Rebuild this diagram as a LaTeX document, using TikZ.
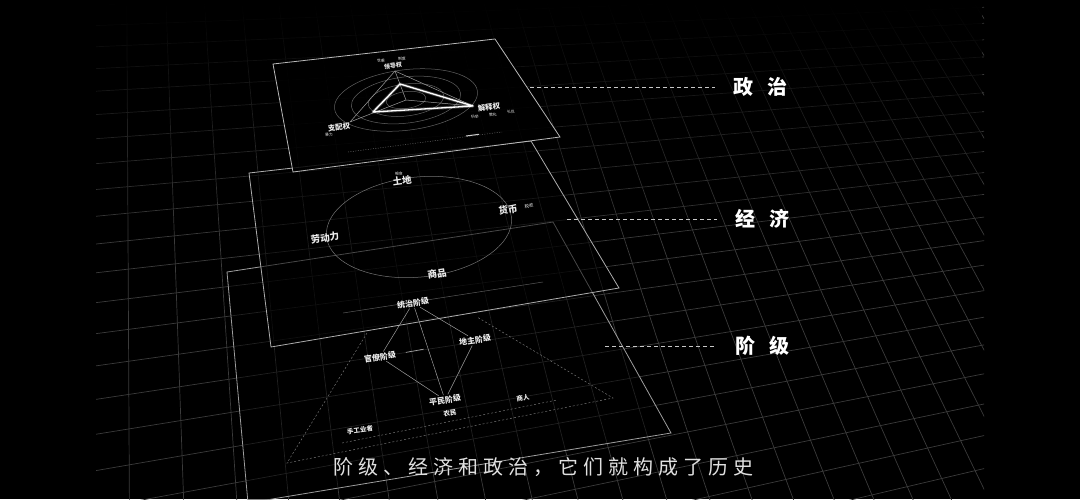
\documentclass[tikz,border=0pt]{standalone}
\usepackage{fontspec}
\setmainfont{Noto Sans CJK SC}
\newfontfamily\capfont[LetterSpace=25]{Noto Sans CJK SC}
\usetikzlibrary{positioning,fadings,arrows.meta}

\tikzfading[name=topfade, top color=transparent!0, bottom color=transparent!100]

% floor point (u,v) -> \fx,\fy
\newcommand{\floorpt}[2]{%
  \pgfmathsetmacro{\fw}{1+0.02*#1+0.0253*#2}%
  \pgfmathsetmacro{\fx}{(68*#1+3.036*#2)/\fw}%
  \pgfmathsetmacro{\fy}{(800-2*#1-32.89*#2)/\fw}}

\begin{document}
\begin{tikzpicture}[x=1pt,y=-1pt,
    gridline/.style={draw=white!23!black, line width=0.7pt},
    layer/.style={draw=white!72!black, line width=0.8pt, fill=black},
    lbl/.style={text=white!92!black, inner sep=1pt, rotate=8, font=\fontsize{9.5}{9.5}\selectfont\bfseries},
    small/.style={lbl, font=\fontsize{7.5}{7.5}\selectfont\bfseries},
    tiny/.style={lbl, font=\fontsize{3.8}{3.8}\selectfont},
    link/.style={draw=white!62!black, line width=0.5pt},
    ring/.style={draw=white!38!black, line width=0.5pt},
    trail/.style={draw=white!45!black, line width=0.5pt, dash pattern=on 2pt off 2pt},
    guide/.style={draw=white!78!black, line width=0.9pt, dash pattern=on 4pt off 3pt, shorten >=18pt},
    tag/.style={text=white, font=\fontsize{20}{20}\selectfont\bfseries, inner sep=0pt}
  ]
  \fill[black] (0,0) rectangle (1080,499);
  \useasboundingbox (0,0) rectangle (1080,499);

  % floor grid
  \begin{scope}
    \clip (96,0) rectangle (984,499);
    \foreach \u in {0,...,40}{
      \floorpt{\u}{0}\coordinate (ga) at (\fx,\fy);
      \floorpt{\u}{32}\coordinate (gb) at (\fx,\fy);
      \draw[gridline] (ga) -- (gb);
    }
    \foreach \v in {0,...,32}{
      \floorpt{0}{\v}\coordinate (ga) at (\fx,\fy);
      \floorpt{40}{\v}\coordinate (gb) at (\fx,\fy);
      \draw[gridline] (ga) -- (gb);
    }
    \fill[black, path fading=topfade] (96,0) rectangle (984,240);
  \end{scope}

  % layer 3: classes
  \coordinate (c3a) at (227,272);
  \coordinate (c3b) at (553,222);
  \coordinate (c3c) at (671,433);
  \coordinate (c3d) at (248,503);
  \filldraw[layer, draw=white!62!black, fill opacity=0.45] (c3a) -- (c3b) -- (c3c) -- (c3d) -- cycle;

  % layer 2: economy
  \coordinate (c2a) at (249,173);
  \coordinate (c2b) at (531,141);
  \coordinate (c2c) at (619,288);
  \coordinate (c2d) at (271,347);
  \filldraw[layer, draw=white!68!black, fill opacity=0.55] (c2a) -- (c2b) -- (c2c) -- (c2d) -- cycle;

  % classes content
  \coordinate (k1) at (343,313);
  \coordinate (k2) at (543,282);
  \draw[white!35!black, line width=0.5pt] (k1) -- (k2);
  \coordinate (d1) at (367,333);
  \coordinate (d2) at (287,463);
  \coordinate (d3) at (613,398);
  \coordinate (d4) at (477,317);
  \draw[trail] (d1) -- (d2) -- (d3) -- (d4);
  \coordinate (d5) at (342,443);
  \coordinate (d6) at (557,400);
  \draw[trail] (d5) -- (d6);

  \node[small, font=\fontsize{8}{8}\selectfont\bfseries] (tongzhi) at (413,303) {统治阶级};
  \node[small, font=\fontsize{8}{8}\selectfont\bfseries] (dizhu) at (475,340) {地主阶级};
  \node[small, font=\fontsize{8}{8}\selectfont\bfseries] (guanliao) at (380,357) {官僚阶级};
  \node[small, font=\fontsize{8}{8}\selectfont\bfseries] (pingmin) at (445,400) {平民阶级};
  \node[small, font=\fontsize{6.5}{6.5}\selectfont\bfseries] (nongmin) at (450,413) {农民};
  \node[small, font=\fontsize{6.5}{6.5}\selectfont\bfseries] (shangren) at (523,398) {商人};
  \node[small, font=\fontsize{6.5}{6.5}\selectfont\bfseries] (shougong) at (360,430) {手工业者};

  \draw[link] (tongzhi) -- (guanliao);
  \draw[link] (tongzhi) -- (dizhu);
  \draw[link] (tongzhi) -- (pingmin);
  \draw[link] (guanliao) -- (pingmin);
  \draw[link] (dizhu) -- (pingmin);
  \draw[white!70!black, line width=0.6pt, shorten <=35pt, shorten >=9pt] (dizhu) -- (guanliao);

  % economy content
  \coordinate (eco) at (419,227);
  \draw[ring, draw=white!45!black, rotate around={6:(eco)}] (eco) ellipse[x radius=93, y radius=50];
  \node[lbl] (tudi) at (402,181) {土地};
  \node[tiny] (liangshi) at (399,174) {粮食};
  \node[lbl] (huobi) at (508,210) {货币};
  \node[tiny, font=\fontsize{4.5}{4.5}\selectfont] (shuishou) at (529,206) {税收};
  \node[lbl] (laodong) at (325,238) {劳动力};
  \node[lbl] (shangpin) at (437,274) {商品};

  % layer 1: politics
  \coordinate (c1a) at (273,64);
  \coordinate (c1b) at (495,39);
  \coordinate (c1c) at (560,137);
  \coordinate (c1d) at (293,172);
  \filldraw[layer, fill opacity=0.85] (c1a) -- (c1b) -- (c1c) -- (c1d) -- cycle;

  \coordinate (ctr) at (406,100);
  \foreach \r in {72,55,38,20}
    \draw[ring, rotate around={7:(ctr)}] (ctr) ellipse[x radius=\r, y radius=0.42*\r];
  \coordinate (ra) at (395,71);
  \coordinate (rb) at (473,106);
  \coordinate (rc) at (350,122);
  \draw[link] (rc) -- (ra) -- (rb);
  \draw[link] (ctr) -- (ra);
  \draw[link] (ctr) -- (rb);
  \draw[link] (ctr) -- (rc);
  \coordinate (ta) at (400,84);
  \coordinate (tc) at (373,112);
  \draw[white, line width=3pt, opacity=0.25, line join=round] (ta) -- (rb) -- (tc) -- cycle;
  \draw[white, line width=1.3pt, line join=round] (ta) -- (rb) -- (tc) -- cycle;

  \node[small, font=\fontsize{6}{6}\selectfont\bfseries] (lingdao) at (393,66) {领导权};
  \node[tiny] (shixi) at (381,61) {世袭};
  \node[tiny] (zhidu) at (402,59) {制度};
  \node[small] (jieshi) at (489,107) {解释权};
  \node[tiny] (keju) at (475,117) {科举};
  \node[tiny] (jiaohua) at (493,115) {教化};
  \node[tiny] (liyi) at (511,112) {礼仪};
  \node[small] (zhipei) at (339,127) {支配权};
  \node[tiny] (baoli) at (329,135) {暴力};

  \coordinate (b1) at (348,152);
  \coordinate (b2) at (502,132);
  \draw[white!40!black, line width=0.5pt, dash pattern=on 1pt off 1.5pt] (b1) -- (b2);
  \coordinate (b3) at (466,136);
  \coordinate (b4) at (479,134.3);
  \draw[white!80!black, line width=1pt] (b3) -- (b4);

  % side tags
  \node[tag] (zhengzhi) at (760,87) {政\hspace{14pt}治};
  \node[tag] (jingji) at (762,219) {经\hspace{14pt}济};
  \node[tag] (jieji) at (762,346) {阶\hspace{14pt}级};
  \coordinate (g1) at (530,87);
  \coordinate (g2) at (567,219);
  \coordinate (g3) at (605,346);
  \draw[guide] (g1) -- (zhengzhi.west);
  \draw[guide] (g2) -- (jingji.west);
  \draw[guide] (g3) -- (jieji.west);

  % caption
  \node[text=white!88!black, font=\capfont\fontsize{20}{20}\selectfont, inner sep=0pt] (caption) at (543,467) {阶级、经济和政治，它们就构成了历史};
\end{tikzpicture}
\end{document}
